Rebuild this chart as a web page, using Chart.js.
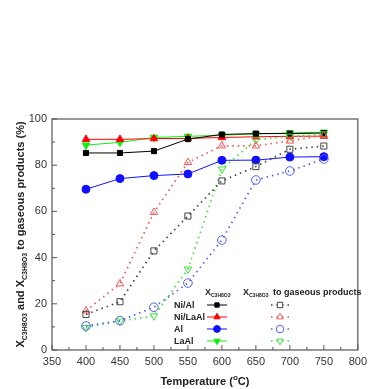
<!DOCTYPE html>
<html>
<head>
<meta charset="UTF-8">
<title>Conversion vs temperature</title>
<style>
  body { margin: 0; background: #fff; }
  canvas { display: block; }
</style>
</head>
<body>
<canvas id="myChart" width="372" height="389"></canvas>
<script src="https://cdn.jsdelivr.net/npm/chart.js"></script>
<script>
// temperature (°C)
const temps = [400, 450, 500, 550, 600, 650, 700, 750];
// X C3H8O3 (solid lines)
const niAl   = [85.3, 85.3, 86.1, 91.3, 93.3, 93.7, 93.7, 93.9];
const niLaAl = [91.2, 91.2, 91.5, 91.6, 92.0, 92.3, 92.5, 92.6];
const al     = [69.6, 74.2, 75.5, 76.2, 82.1, 82.2, 83.5, 83.7];
const laAl   = [88.7, 89.9, 92.0, 92.5, 93.0, 93.5, 94.0, 94.3];
// X C3H8O3 to gaseous products (dotted lines)
const niAlGas   = [15.4, 20.9, 42.9, 58.0, 73.2, 79.4, 86.9, 88.3];
const niLaAlGas = [17.0, 28.7, 59.6, 81.2, 88.4, 88.4, 90.5, 92.9];
const alGas     = [10.4, 12.7, 18.5, 29.0, 47.6, 73.6, 77.5, 82.7];
const laAlGas   = [9.7, 12.5, 14.7, 35.0, 78.3, 91.0, 92.5, 93.5];

const labels = ['Ni/Al', 'Ni/LaAl', 'Al', 'LaAl'];
const xTicks = [350, 400, 450, 500, 550, 600, 650, 700, 750, 800];
const yTicks = [0, 20, 40, 60, 80, 100];

const solidCol = ['#000000', '#ff0000', '#1010ff', '#10ee10'];
const hollowCol = ['#444444', '#ee5555', '#5060ee', '#40dd40'];
const shapes = ['rect', 'triangle', 'circle', 'triangle'];
const rots = [0, 0, 0, 180];
const solidR = [3.6, 4.3, 4, 4.3];

function pts(arr) { return temps.map((t, i) => ({ x: t, y: arr[i] })); }

const solidSets = [niAl, niLaAl, al, laAl].map((d, i) => ({
  label: labels[i],
  data: pts(d),
  borderColor: solidCol[i],
  backgroundColor: solidCol[i],
  borderWidth: 1,
  pointStyle: shapes[i],
  pointRotation: rots[i],
  pointRadius: solidR[i],
  pointBorderWidth: 1,
  pointBackgroundColor: solidCol[i],
  pointBorderColor: solidCol[i],
  tension: 0
}));
const hollowSets = [niAlGas, niLaAlGas, alGas, laAlGas].map((d, i) => ({
  label: labels[i] + ' gas',
  data: pts(d),
  borderColor: hollowCol[i],
  backgroundColor: '#ffffff',
  borderWidth: 1.7,
  borderDash: [1.5, 4],
  pointStyle: shapes[i],
  pointRotation: rots[i],
  pointRadius: 4.3,
  pointBorderWidth: 1,
  pointBackgroundColor: 'rgba(255,255,255,0)',
  pointBorderColor: hollowCol[i],
  tension: 0
}));

function fontFor(k) {
  return k === 'sub' ? 'bold 7px Arial' : (k === 'sup' ? 'bold 8px Arial' : 'bold 11px Arial');
}
function drawParts(ctx, x, y, parts) {
  let cx = x;
  parts.forEach(([t, k]) => {
    ctx.font = fontFor(k);
    const dy = k === 'sub' ? 3 : (k === 'sup' ? -5 : 0);
    ctx.fillText(t, cx, y + dy);
    cx += ctx.measureText(t).width;
  });
}
function measureParts(ctx, parts) {
  let w = 0;
  parts.forEach(([t, k]) => { ctx.font = fontFor(k); w += ctx.measureText(t).width; });
  return w;
}

const decor = {
  id: 'decor',
  afterDraw(chart) {
    const ctx = chart.ctx;
    const a = chart.chartArea;
    const xs = chart.scales.x, ys = chart.scales.y;
    ctx.save();
    // frame
    ctx.strokeStyle = '#555';
    ctx.lineWidth = 1.2;
    ctx.strokeRect(a.left, a.top, a.right - a.left, a.bottom - a.top);
    // inward ticks
    ctx.lineWidth = 1;
    for (let v = 350; v <= 800; v += 25) {
      const px = xs.getPixelForValue(v);
      const len = v % 50 === 0 ? 5 : 3;
      ctx.beginPath(); ctx.moveTo(px, a.bottom); ctx.lineTo(px, a.bottom - len); ctx.stroke();
    }
    for (let v = 0; v <= 100; v += 10) {
      const py = ys.getPixelForValue(v);
      const len = v % 20 === 0 ? 5 : 3;
      ctx.beginPath(); ctx.moveTo(a.left, py); ctx.lineTo(a.left + len, py); ctx.stroke();
    }
    // x title
    ctx.fillStyle = '#222';
    ctx.textBaseline = 'alphabetic';
    ctx.textAlign = 'left';
    const xParts = [['Temperature (', 'n'], ['o', 'sup'], ['C)', 'n']];
    const xw = measureParts(ctx, xParts);
    drawParts(ctx, (a.left + a.right) / 2 - xw / 2, 385, xParts);
    // y title
    const yParts = [['X', 'n'], ['C3H8O3', 'sub'], [' and X', 'n'], ['C3H8O3', 'sub'], [' to gaseous products (%)', 'n']];
    const yw = measureParts(ctx, yParts);
    ctx.translate(24, (a.top + a.bottom) / 2);
    ctx.rotate(-Math.PI / 2);
    drawParts(ctx, -yw / 2, 0, yParts);
    ctx.restore();

    // legend
    ctx.save();
    ctx.fillStyle = '#222';
    ctx.textBaseline = 'alphabetic';
    ctx.textAlign = 'left';
    ctx.font = 'bold 9px Arial';
    ctx.fillText('X', 205, 295);
    ctx.font = 'bold 5px Arial';
    ctx.fillText('C3H8O3', 211, 297);
    ctx.font = 'bold 9px Arial';
    ctx.fillText('X', 243, 295);
    ctx.font = 'bold 5px Arial';
    ctx.fillText('C3H8O3', 249, 297);
    ctx.font = 'bold 9px Arial';
    ctx.fillText('to gaseous products', 273, 295);
    const rows = [305, 317, 329, 341];
    rows.forEach((ry, i) => {
      ctx.font = 'bold 9px Arial';
      ctx.fillStyle = '#222';
      ctx.fillText(labels[i], 174, ry + 3);
      // solid line sample
      ctx.strokeStyle = solidCol[i];
      ctx.fillStyle = solidCol[i];
      ctx.lineWidth = 1;
      ctx.setLineDash([]);
      ctx.beginPath(); ctx.moveTo(207, ry); ctx.lineTo(227, ry); ctx.stroke();
      Chart.helpers.drawPoint(ctx, { pointStyle: shapes[i], rotation: rots[i], radius: solidR[i] * 0.85, borderWidth: 1 }, 217, ry);
      // dotted sample
      ctx.strokeStyle = hollowCol[i];
      ctx.lineWidth = 1.5;
      ctx.setLineDash([1.5, 4]);
      ctx.beginPath(); ctx.moveTo(271, ry); ctx.lineTo(289, ry); ctx.stroke();
      ctx.setLineDash([]);
      ctx.lineWidth = 1;
      ctx.fillStyle = '#fff';
      Chart.helpers.drawPoint(ctx, { pointStyle: shapes[i], rotation: rots[i], radius: 3.8, borderWidth: 1 }, 280, ry);
    });
    ctx.restore();
  }
};

const chart = new Chart(document.getElementById('myChart').getContext('2d'), {
  type: 'line',
  data: { datasets: [...hollowSets, ...solidSets] },
  options: {
    responsive: false,
    animation: false,
    layout: { padding: { top: 119, right: 10, left: 0, bottom: 0 } },
    plugins: { legend: { display: false }, tooltip: { enabled: false } },
    scales: {
      x: {
        type: 'linear', min: 350, max: 800,
        afterBuildTicks: s => { s.ticks = xTicks.map(v => ({ value: v })); },
        afterFit: s => { s.height = 39; },
        grid: { display: false, drawTicks: false },
        border: { display: false },
        ticks: { color: '#333', font: { family: 'Arial', size: 11 }, padding: 5, maxRotation: 0 }
      },
      y: {
        min: 0, max: 100,
        afterBuildTicks: s => { s.ticks = yTicks.map(v => ({ value: v })); },
        afterFit: s => { s.width = 52; },
        grid: { display: false, drawTicks: false },
        border: { display: false },
        ticks: { color: '#333', font: { family: 'Arial', size: 11 }, padding: 5 }
      }
    }
  },
  plugins: [decor]
});
</script>
</body>
</html>
